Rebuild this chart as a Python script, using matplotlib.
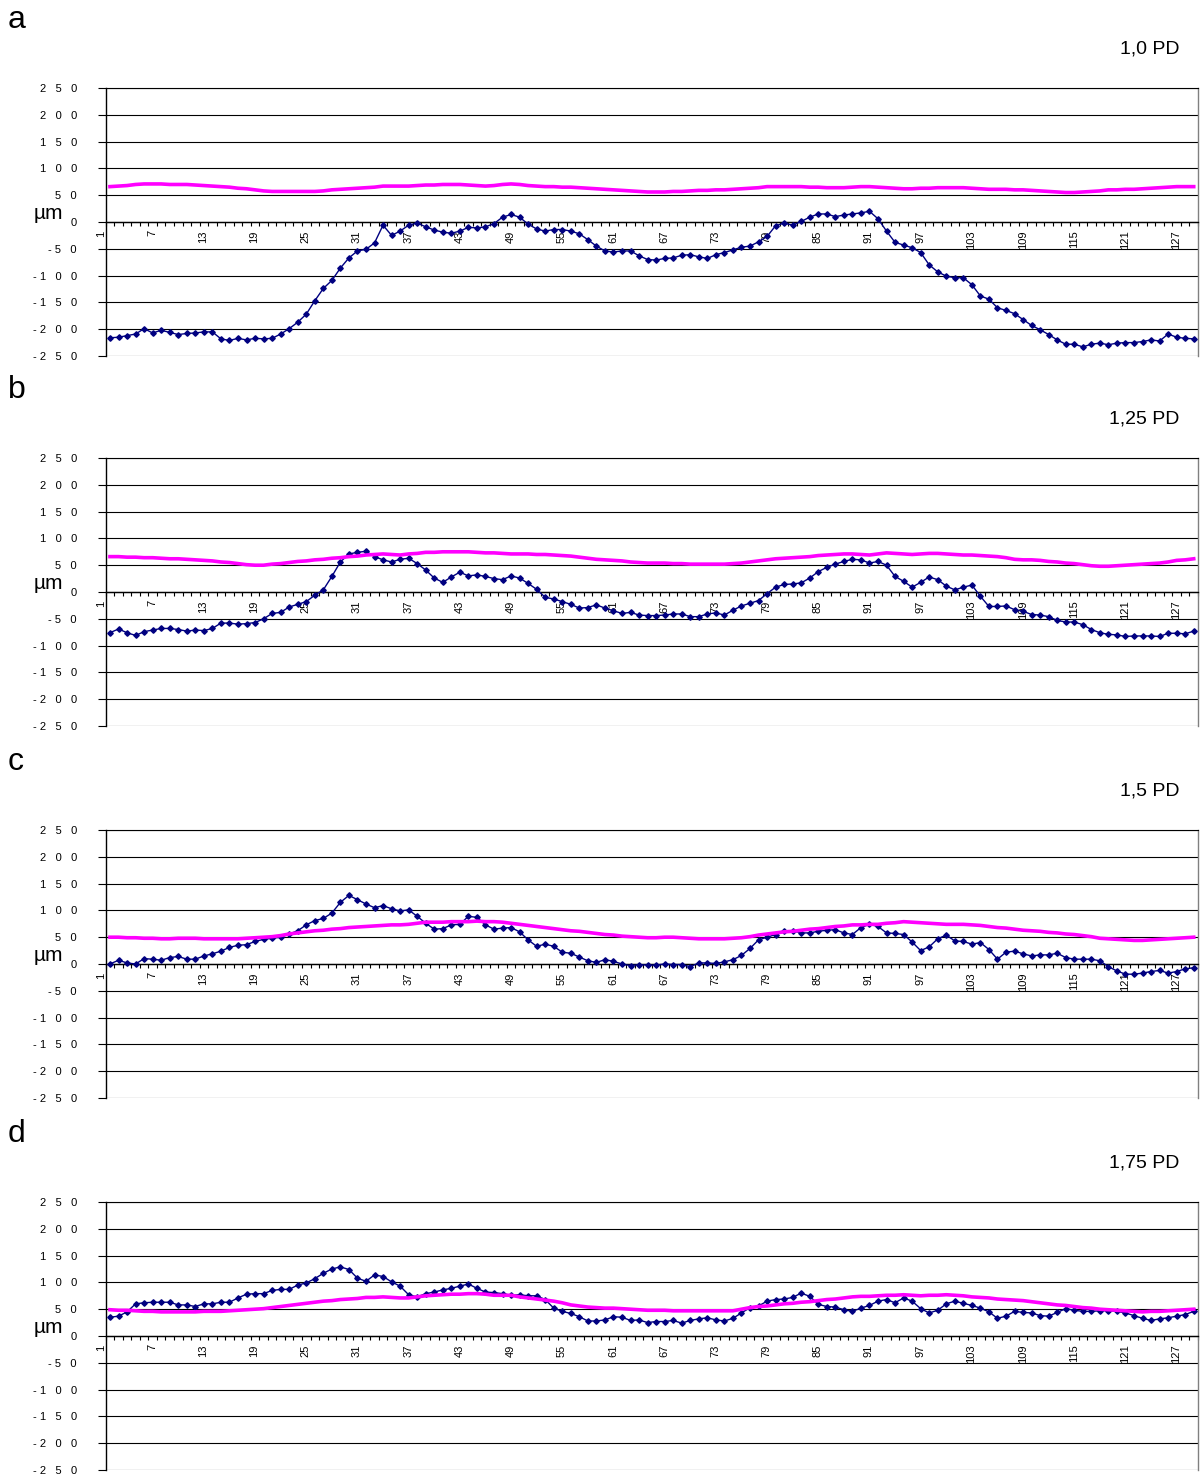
import numpy as np
import matplotlib
matplotlib.use('agg')
import matplotlib.pyplot as plt
from matplotlib.transforms import ScaledTranslation, blended_transform_factory

plt.rcParams['font.family'] = ['Liberation Sans', 'DejaVu Sans']

# profile points 1..128
idx = np.arange(1, 129)

# panel a - 1,0 PD
prof_a = [-216, -215, -212, -209, -199, -207, -202, -206, -210, -208,
          -207, -205, -205, -218, -221, -217, -220, -217, -218, -217,
          -209, -199, -187, -172, -147, -124, -109, -86, -67, -54,
          -51, -39, -6, -25, -17, -6, -2, -9, -15, -19,
          -21, -17, -10, -11, -9, -3, 9, 14, 9, -4,
          -13, -17, -14, -14, -17, -22, -33, -45, -54, -56,
          -54, -54, -63, -70, -71, -68, -67, -62, -61, -65,
          -68, -61, -57, -52, -47, -45, -37, -27, -7, -2,
          -6, 1, 9, 15, 15, 10, 13, 15, 17, 20,
          6, -17, -38, -43, -48, -57, -80, -93, -101, -104,
          -104, -117, -138, -144, -160, -165, -171, -182, -193, -201,
          -210, -220, -228, -228, -233, -228, -226, -229, -226, -225,
          -225, -223, -220, -222, -209, -215, -217, -218]
ref_a = [66, 67, 68, 70, 71, 71, 71, 70, 70, 70,
         69, 68, 67, 66, 65, 63, 62, 60, 58, 57,
         57, 57, 57, 57, 57, 58, 60, 61, 62, 63,
         64, 65, 67, 67, 67, 67, 68, 69, 69, 70,
         70, 70, 69, 68, 67, 68, 70, 71, 70, 68,
         67, 66, 66, 65, 65, 64, 63, 62, 61, 60,
         59, 58, 57, 56, 56, 56, 57, 57, 58, 59,
         59, 60, 60, 61, 62, 63, 64, 66, 66, 66,
         66, 66, 65, 65, 64, 64, 64, 65, 66, 66,
         65, 64, 63, 62, 62, 63, 63, 64, 64, 64,
         64, 63, 62, 61, 61, 61, 60, 60, 59, 58,
         57, 56, 55, 55, 56, 57, 58, 60, 60, 61,
         61, 62, 63, 64, 65, 66, 66, 66]

# panel b - 1,25 PD
prof_b = [-76, -69, -76, -81, -74, -71, -68, -68, -70, -73,
          -71, -72, -68, -58, -58, -60, -59, -57, -50, -40,
          -38, -28, -23, -18, -6, 4, 29, 56, 71, 74,
          76, 66, 60, 56, 61, 63, 53, 41, 26, 18,
          28, 37, 30, 32, 29, 25, 23, 30, 26, 16,
          5, -10, -13, -18, -23, -30, -29, -24, -30, -35,
          -40, -38, -43, -44, -44, -43, -41, -41, -46, -46,
          -41, -39, -43, -34, -26, -21, -16, -3, 9, 14,
          15, 17, 26, 38, 46, 52, 57, 61, 60, 54,
          57, 50, 29, 20, 9, 18, 28, 23, 11, 4,
          9, 13, -8, -27, -27, -26, -33, -36, -42, -43,
          -46, -53, -56, -56, -61, -70, -76, -79, -80, -83,
          -82, -82, -82, -83, -77, -77, -78, -73]
ref_b = [66, 66, 65, 65, 64, 64, 63, 62, 62, 61,
         60, 59, 58, 56, 55, 53, 51, 50, 50, 52,
         53, 55, 57, 58, 60, 61, 63, 64, 66, 67,
         69, 70, 71, 70, 69, 71, 72, 74, 74, 75,
         75, 75, 75, 74, 73, 73, 72, 71, 71, 71,
         70, 70, 69, 68, 67, 65, 63, 61, 60, 59,
         58, 56, 55, 54, 54, 54, 53, 53, 52, 52,
         52, 52, 52, 53, 54, 56, 58, 60, 62, 63,
         64, 65, 66, 68, 69, 70, 71, 71, 70, 69,
         71, 73, 72, 71, 70, 71, 72, 72, 71, 70,
         69, 69, 68, 67, 66, 64, 61, 60, 60, 59,
         57, 56, 54, 53, 51, 49, 48, 48, 49, 50,
         51, 52, 53, 54, 56, 59, 60, 62]

# panel c - 1,5 PD
prof_c = [0, 7, 2, 0, 10, 9, 7, 12, 14, 9,
          9, 15, 19, 24, 31, 35, 36, 42, 46, 48,
          50, 56, 62, 73, 81, 85, 95, 115, 128, 120,
          112, 105, 109, 103, 99, 101, 89, 76, 65, 66,
          73, 74, 89, 87, 73, 65, 67, 68, 60, 45,
          33, 37, 33, 22, 20, 13, 6, 3, 8, 5,
          0, -3, -1, -2, -2, 0, -1, -1, -5, 2,
          2, 1, 4, 8, 16, 29, 45, 50, 55, 61,
          62, 58, 58, 61, 63, 64, 58, 55, 68, 74,
          70, 58, 57, 55, 41, 25, 32, 47, 54, 43,
          42, 37, 40, 27, 9, 22, 24, 19, 15, 17,
          17, 20, 12, 9, 9, 9, 6, -5, -13, -19,
          -19, -17, -14, -12, -17, -14, -9, -7]
ref_c = [50, 50, 49, 49, 48, 48, 47, 47, 48, 48,
         48, 47, 47, 47, 47, 47, 48, 49, 50, 51,
         53, 56, 58, 60, 62, 63, 65, 66, 68, 69,
         70, 71, 72, 73, 73, 74, 76, 78, 78, 78,
         79, 79, 79, 80, 79, 79, 78, 76, 74, 72,
         70, 68, 66, 64, 62, 61, 59, 57, 55, 54,
         52, 51, 50, 49, 49, 50, 50, 49, 48, 47,
         47, 47, 47, 48, 49, 51, 54, 56, 58, 60,
         61, 63, 65, 66, 68, 70, 71, 73, 73, 74,
         74, 76, 77, 79, 78, 77, 76, 75, 74, 74,
         74, 73, 72, 70, 68, 67, 65, 63, 62, 61,
         59, 58, 56, 55, 53, 51, 48, 47, 46, 45,
         44, 44, 45, 46, 47, 48, 49, 50]

# panel d - 1,75 PD
prof_d = [35, 37, 45, 60, 62, 63, 63, 63, 58, 58,
          55, 60, 60, 63, 63, 71, 78, 79, 79, 85,
          87, 87, 95, 99, 107, 117, 125, 129, 124, 108,
          102, 114, 111, 101, 93, 77, 73, 79, 82, 86,
          89, 93, 97, 89, 82, 81, 79, 76, 77, 75,
          75, 68, 52, 46, 42, 36, 28, 28, 30, 36,
          35, 29, 30, 25, 27, 27, 29, 24, 29, 32,
          34, 30, 28, 33, 43, 53, 56, 65, 68, 69,
          72, 80, 74, 59, 55, 54, 49, 46, 52, 57,
          65, 68, 62, 71, 65, 51, 43, 48, 60, 65,
          61, 57, 52, 45, 33, 37, 46, 44, 43, 38,
          37, 44, 51, 48, 46, 46, 47, 47, 46, 43,
          38, 33, 29, 32, 34, 37, 40, 46]
ref_d = [49, 48, 48, 47, 46, 46, 45, 45, 45, 45,
         45, 46, 46, 46, 47, 48, 49, 50, 51, 53,
         55, 57, 59, 61, 63, 65, 66, 68, 69, 70,
         72, 72, 73, 72, 71, 71, 73, 75, 76, 77,
         78, 78, 79, 79, 78, 76, 76, 76, 73, 71,
         69, 67, 65, 62, 58, 56, 54, 53, 52, 52,
         51, 50, 49, 48, 48, 48, 47, 47, 47, 47,
         47, 47, 47, 47, 50, 53, 55, 56, 58, 60,
         61, 63, 64, 66, 68, 69, 71, 73, 74, 74,
         75, 76, 76, 77, 76, 75, 76, 76, 77, 76,
         75, 73, 72, 71, 69, 68, 67, 66, 64, 62,
         60, 58, 57, 55, 53, 52, 50, 49, 48, 47,
         46, 45, 46, 46, 47, 48, 49, 50]

letters = ['a', 'b', 'c', 'd']
titles = ['1,0 PD', '1,25 PD', '1,5 PD', '1,75 PD']
profiles = [prof_a, prof_b, prof_c, prof_d]
refs = [ref_a, ref_b, ref_c, ref_d]

yticks = list(range(-250, 251, 50))
ylabels = ['- 2   5   0', '- 2   0   0', '- 1   5   0', '- 1   0   0', '- 5   0', '0',
           '5   0', '1   0   0', '1   5   0', '2   0   0', '2   5   0']
xticks = list(range(1, 129, 6))

W, H = 1202, 1474
fig = plt.figure(figsize=(W / 100, H / 100), dpi=100)

tops = [88, 458, 830, 1202]
plot_h = 268
left, right = 105.7, 1198

for i in range(4):
    top = tops[i]
    ax = fig.add_axes([left / W, 1 - (top + plot_h) / H, (right - left) / W, plot_h / H])

    ax.plot(idx, profiles[i], color='#000080', lw=1.0, marker='D', ms=2.8,
            mec='#000080', mfc='#000080', zorder=3)
    ax.plot(idx, refs[i], color='#ff00ff', lw=2.6, zorder=4)

    ax.set_xlim(0.5, 128.5)
    ax.set_ylim(-250, 250)

    ax.set_yticks(yticks)
    ax.set_yticklabels(ylabels, fontsize=8)
    ax.tick_params(axis='y', direction='out', length=5.8, width=0.8, pad=15, color='black')
    ax.yaxis.grid(True, color='black', lw=0.8)
    ax.set_axisbelow(True)

    ax.set_xticks(xticks)
    ax.set_xticks(np.arange(0.5, 129, 1), minor=True)
    ax.set_xticklabels([str(t) for t in xticks])
    ax.tick_params(axis='x', which='major', length=0, pad=6, labelsize=8, labelrotation=90)
    ax.tick_params(axis='x', which='minor', direction='out', length=3, width=0.8, color='black')

    ax.spines['bottom'].set_position(('data', 0))
    ax.spines['bottom'].set_linewidth(1.0)
    ax.spines['left'].set_linewidth(1.0)
    ax.spines['top'].set_color('black')
    ax.spines['top'].set_linewidth(0.8)
    ax.spines['right'].set_color('#808080')
    ax.spines['right'].set_linewidth(1.0)

    # Excel-like label placement: labels sit about one slot left of their point
    shift = ScaledTranslation(-9 / 100, 0, fig.dpi_scale_trans)
    for lab in ax.get_xticklabels():
        lab.set_rotation(90)
        lab.set_va('top')
        lab.set_ha('center')
        lab.set_fontsize(8)
        lab.set_transform(lab.get_transform() + shift)

    tr = blended_transform_factory(ax.transAxes, ax.transData)
    ax.text((48 - left) / (right - left), 6, 'µm', transform=tr, fontsize=15,
            ha='center', va='baseline')

    fig.text(8 / W, 1 - (top - 68) / H, letters[i], fontsize=23, ha='left', va='center')
    fig.text(1179 / W, 1 - (top - 39) / H, titles[i], fontsize=14, ha='right', va='center')

fig.savefig('out.png', dpi=100)
